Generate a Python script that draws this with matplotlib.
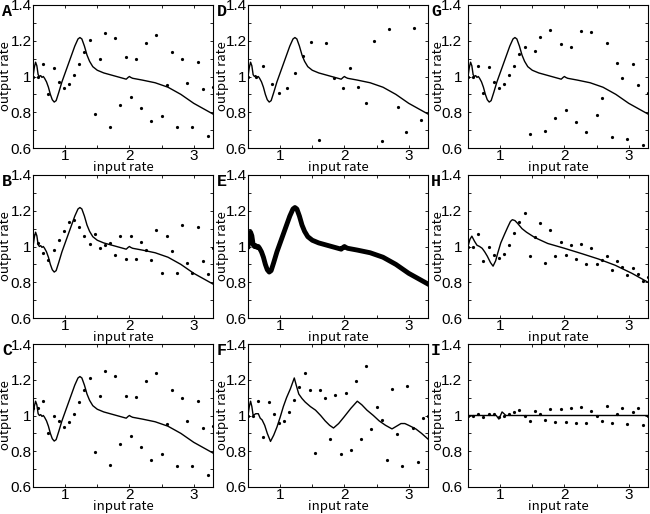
import matplotlib.pyplot as plt
from matplotlib.ticker import MultipleLocator

# input rate grid for the dotted series
x_in = [0.50, 0.58, 0.66, 0.74, 0.82, 0.90, 0.98, 1.06, 1.14, 1.22, 1.30, 1.38,
        1.46, 1.54, 1.62, 1.70, 1.78, 1.86, 1.94, 2.02, 2.10, 2.18, 2.26, 2.34,
        2.42, 2.50, 2.58, 2.66, 2.74, 2.82, 2.90, 2.98, 3.06, 3.14, 3.22, 3.30]
x_in_d = [0.50, 0.62, 0.74, 0.87, 0.98, 1.11, 1.23, 1.36, 1.48, 1.60, 1.72, 1.84,
          1.97, 2.09, 2.21, 2.33, 2.46, 2.58, 2.70, 2.83, 2.95, 3.08, 3.19, 3.32]

# response curves
curve_x = [0.50, 0.52, 0.54, 0.56, 0.58, 0.60, 0.62, 0.64, 0.66, 0.68, 0.71, 0.74,
           0.77, 0.80, 0.83, 0.86, 0.90, 0.95, 1.00, 1.05, 1.10, 1.15, 1.20, 1.23,
           1.26, 1.30, 1.34, 1.38, 1.43, 1.50, 1.60, 1.70, 1.80, 1.90, 1.95, 1.98,
           2.00, 2.02, 2.05, 2.20, 2.40, 2.60, 2.80, 3.00, 3.20, 3.30]
curve_y = [1.00, 1.05, 1.08, 1.06, 1.01, 1.00, 1.005, 0.995, 1.00, 0.99, 0.97, 0.94,
           0.90, 0.87, 0.857, 0.865, 0.91, 0.97, 1.02, 1.07, 1.12, 1.17, 1.21, 1.218,
           1.21, 1.17, 1.12, 1.085, 1.055, 1.035, 1.02, 1.01, 1.00, 0.99, 0.985, 0.995,
           1.00, 0.995, 0.99, 0.98, 0.965, 0.94, 0.90, 0.85, 0.81, 0.79]

curve_h_x = [0.50, 0.53, 0.56, 0.60, 0.64, 0.68, 0.72, 0.76, 0.80, 0.85, 0.89, 0.93,
             0.96, 1.01, 1.07, 1.12, 1.16, 1.19, 1.23, 1.27, 1.34, 1.41, 1.54, 1.74,
             2.00, 2.27, 2.53, 2.79, 3.05, 3.30]
curve_h_y = [1.00, 1.04, 1.058, 1.03, 1.007, 1.00, 0.99, 0.97, 0.946, 0.91, 0.89, 0.92,
             0.96, 1.02, 1.07, 1.11, 1.14, 1.15, 1.145, 1.13, 1.10, 1.08, 1.05, 1.017,
             0.99, 0.96, 0.93, 0.895, 0.85, 0.80]

curve_f_x = [0.50, 0.52, 0.54, 0.56, 0.58, 0.62, 0.66, 0.69, 0.72, 0.76, 0.80, 0.85,
             0.90, 0.95, 1.00, 1.05, 1.10, 1.16, 1.22, 1.25, 1.29, 1.34, 1.39, 1.47,
             1.55, 1.63, 1.70, 1.77, 1.83, 1.91, 1.99, 2.10, 2.20, 2.27, 2.35, 2.45,
             2.54, 2.64, 2.74, 2.81, 2.88, 2.94, 3.00, 3.11, 3.20, 3.31]
curve_f_y = [1.00, 1.05, 1.08, 1.05, 1.00, 1.01, 1.01, 0.985, 0.975, 0.945, 0.90, 0.855,
             0.89, 0.935, 0.99, 1.05, 1.10, 1.15, 1.21, 1.17, 1.12, 1.095, 1.075, 1.05,
             1.03, 1.00, 0.97, 0.945, 0.93, 0.955, 0.99, 1.04, 1.08, 1.06, 1.03, 1.00,
             0.97, 0.945, 0.925, 0.94, 0.955, 0.955, 0.945, 0.925, 0.90, 0.865]

curve_i_x = [0.50, 0.94, 0.98, 1.03, 1.09, 3.30]
curve_i_y = [1.00, 1.00, 0.98, 1.02, 1.00, 1.00]

# dotted outputs, one list per panel
dots_a = [1.00, 1.00, 1.07, 0.90, 1.048, 0.97, 0.935, 0.96, 1.01, 1.07, 1.137, 1.204,
          0.79, 1.10, 1.246, 0.72, 1.217, 0.84, 1.107, 0.885, 1.098, 0.824, 1.19, 0.75,
          1.233, 0.78, 0.95, 1.139, 0.72, 1.098, 0.963, 0.715, 1.083, 0.93, 0.667, 0.94]
dots_b = [1.065, 1.017, 0.965, 0.924, 0.98, 1.037, 1.089, 1.137, 1.15, 1.109, 1.057, 1.015,
          1.07, 0.991, 1.011, 1.02, 0.954, 1.056, 0.928, 1.061, 0.928, 1.026, 0.98, 0.924,
          1.094, 0.854, 1.061, 0.974, 0.854, 1.12, 0.909, 0.854, 1.109, 0.917, 0.844, 0.993]
dots_c = [1.044, 1.04, 1.083, 0.90, 1.00, 0.97, 0.937, 0.965, 1.01, 1.076, 1.14, 1.21,
          0.796, 1.107, 1.248, 0.724, 1.22, 0.84, 1.11, 0.887, 1.104, 0.826, 1.194, 0.75,
          1.235, 0.783, 0.95, 1.144, 0.72, 1.10, 0.967, 0.716, 1.083, 0.93, 0.668, 0.94]
dots_d = [1.00, 1.00, 1.06, 0.956, 0.91, 0.937, 1.02, 1.113, 1.193, 0.647, 1.19, 0.99,
          0.937, 1.05, 0.944, 0.854, 1.196, 0.637, 1.265, 0.83, 0.69, 1.274, 0.757, 0.606]
dots_f = [1.00, 1.00, 1.082, 0.88, 1.074, 1.01, 0.96, 0.968, 1.017, 1.084, 1.162, 1.24,
          1.14, 0.79, 1.145, 1.099, 0.866, 1.112, 0.784, 1.128, 0.806, 1.195, 0.866, 1.275,
          0.927, 1.05, 0.974, 0.753, 1.151, 0.898, 0.717, 1.164, 0.931, 0.738, 0.987, 0.996]
dots_g = [1.00, 1.00, 1.06, 0.907, 1.052, 0.97, 0.935, 0.96, 1.006, 1.06, 1.125, 1.164,
          0.68, 1.143, 1.22, 0.693, 1.26, 0.767, 1.18, 0.81, 1.167, 0.747, 1.255, 0.687,
          1.25, 0.782, 0.88, 1.186, 0.663, 1.074, 0.99, 0.648, 1.07, 0.955, 0.615, 0.91]
dots_h = [1.00, 1.00, 1.07, 0.92, 0.996, 0.95, 0.933, 0.957, 1.007, 1.073, 1.138, 1.185,
          0.946, 1.054, 1.129, 0.908, 1.09, 0.948, 1.026, 0.955, 1.006, 0.931, 1.015, 0.90,
          0.994, 0.90, 0.927, 0.948, 0.871, 0.921, 0.888, 0.843, 0.88, 0.847, 0.807, 0.828]
dots_i = [1.00, 1.00, 1.006, 0.993, 1.006, 1.006, 0.993, 0.996, 1.006, 1.02, 1.03, 0.996,
          0.97, 1.025, 1.006, 0.976, 1.036, 0.962, 1.038, 0.964, 1.041, 0.959, 1.045, 0.96,
          1.026, 1.00, 0.972, 1.051, 0.959, 1.006, 1.041, 0.951, 1.017, 1.043, 0.949, 0.996]

letters = ["A", "B", "C", "D", "E", "F", "G", "H", "I"]

# panel -> (curve_x, curve_y, dots_x, dots_y, line width)
panels = {
    "A": (curve_x, curve_y, x_in, dots_a, 1.0),
    "B": (curve_x, curve_y, x_in, dots_b, 1.0),
    "C": (curve_x, curve_y, x_in, dots_c, 1.0),
    "D": (curve_x, curve_y, x_in_d, dots_d, 1.0),
    "E": (curve_x, curve_y, None, None, 3.5),
    "F": (curve_f_x, curve_f_y, x_in, dots_f, 1.0),
    "G": (curve_x, curve_y, x_in, dots_g, 1.0),
    "H": (curve_h_x, curve_h_y, x_in, dots_h, 1.0),
    "I": (curve_i_x, curve_i_y, x_in, dots_i, 1.0),
}

W, H = 650, 514
fig = plt.figure(figsize=(W / 100, H / 100), dpi=100)

col_left = [33, 248, 468]
col_pad = [1, 1, 4]
ylab_off = [-21, -19, -23]   # px from axis left to the ylabel's right edge
letter_off = [-31, -31, -37]  # px from axis left to the panel letter
row_top = [5, 175, 344]
ax_w, ax_h = 180, 143

tick_font = {"family": ["Liberation Sans", "DejaVu Sans"], "size": 11}
label_font = {"family": ["Noto Sans CJK JP", "DejaVu Sans"], "size": 9.5}

for idx, name in enumerate(letters):
    col, row = idx // 3, idx % 3
    left = col_left[col]
    top = row_top[row]
    ax = fig.add_axes([left / W, 1 - (top + ax_h) / H, ax_w / W, ax_h / H])
    cx, cy, dx, dy, lw = panels[name]
    ax.plot(cx, cy, color="black", lw=lw, solid_joinstyle="round")
    if dx is not None:
        ax.plot(dx, dy, "o", color="black", ms=2.3, mew=0)
    ax.set_xlim(0.5, 3.3)
    ax.set_ylim(0.6, 1.4)
    ax.set_xticks([1, 2, 3])
    ax.set_xticklabels(["1", "2", "3"], fontdict=tick_font)
    ax.set_yticks([0.6, 0.8, 1.0, 1.2, 1.4])
    ax.set_yticklabels(["0.6", "0.8", "1", "1.2", "1.4"], fontdict=tick_font)
    ax.xaxis.set_minor_locator(MultipleLocator(0.5))
    ax.yaxis.set_minor_locator(MultipleLocator(0.1))
    ax.tick_params(which="both", direction="in", top=True, right=True,
                   length=2.5, width=0.6)
    ax.tick_params(axis="x", pad=0.5)
    ax.tick_params(axis="y", pad=col_pad[col])
    for sp in ax.spines.values():
        sp.set_linewidth(0.8)
    ax.set_xlabel("input rate", fontdict=label_font)
    ax.set_ylabel("output rate", fontdict=label_font)
    ax.xaxis.set_label_coords(0.5, -13 / ax_h)
    ax.yaxis.set_label_coords(ylab_off[col] / ax_w, 0.5)
    fig.text((left + letter_off[col]) / W, 1 - (top - 1) / H, name,
             ha="left", va="top", fontsize=12,
             family=["Liberation Mono", "DejaVu Sans Mono"], weight="bold")

fig.savefig("out.png", dpi=100)
